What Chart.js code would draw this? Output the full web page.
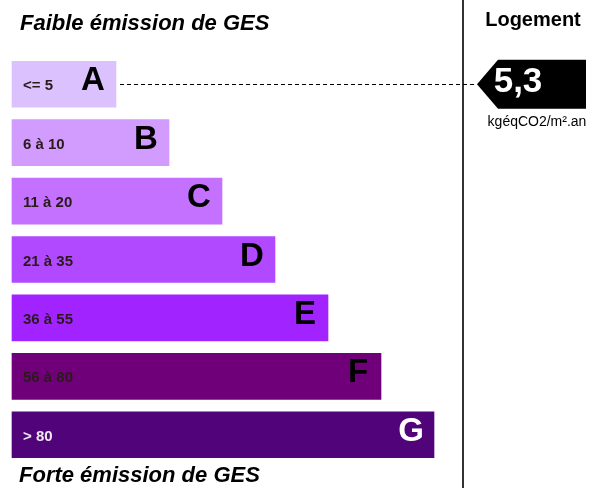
<!DOCTYPE html>
<html><head><meta charset="utf-8">
<script src="https://cdn.jsdelivr.net/npm/chart.js@4/dist/chart.umd.min.js"></script>
<style>html,body{margin:0;padding:0;background:#fff}#w{width:610px;height:488px;position:relative}</style>
</head><body><div id="w"><canvas id="c" width="610" height="488"></canvas></div>
<script>
const classes = ['A','B','C','D','E','F','G'];
const rangeLabels = ['<= 5','6 à 10','11 à 20','21 à 35','36 à 55','56 à 80','> 80'];
const barLengths = [2,3,4,5,6,7,8];
const barColors = ['#dbc1fd','#d29cff','#c471ff','#b049ff','#a123ff','#70007a','#51047a'];
const textColors = ['#2a1a1a','#2a1a1a','#2a1a1a','#2a1a1a','#2a1a1a','#2a1a1a','#f0e8f0'];
const letterColors = ['#000','#000','#000','#000','#000','#000','#fff'];
const topTitle = 'Faible émission de GES';
const bottomTitle = 'Forte émission de GES';
const panelTitle = 'Logement';
const logementClass = 'A';
const logementLabel = '5,3';
const unitLabel = 'kgéqCO2/m².an';

const F = '"Liberation Sans", Arial, sans-serif';

const overlay = {
  id:'overlay',
  afterDatasetsDraw(chart){
    const ctx = chart.ctx;
    const meta = chart.getDatasetMeta(0);
    ctx.save();
    // titles
    ctx.fillStyle = '#000';
    ctx.textBaseline = 'alphabetic';
    ctx.textAlign = 'left';
    ctx.font = 'italic bold 22px ' + F;
    ctx.fillText(topTitle, 20, 30);
    ctx.fillText(bottomTitle, 19, 482);
    // labels inside bars
    meta.data.forEach((bar, i) => {
      const yc = bar.y;
      ctx.font = 'bold 15px ' + F;
      ctx.fillStyle = textColors[i];
      ctx.textAlign = 'left';
      ctx.textBaseline = 'middle';
      ctx.fillText(rangeLabels[i], 23, yc + 2);
      ctx.font = 'bold 33px ' + F;
      ctx.fillStyle = letterColors[i];
      ctx.textAlign = 'center';
      ctx.fillText(classes[i], bar.x - 24, yc - 3);
    });
    // vertical separator
    ctx.strokeStyle = '#333';
    ctx.lineWidth = 2;
    ctx.beginPath(); ctx.moveTo(463, 0); ctx.lineTo(463, 488); ctx.stroke();
    // panel title
    ctx.fillStyle = '#000';
    ctx.font = 'bold 20px ' + F;
    ctx.textAlign = 'center';
    ctx.textBaseline = 'alphabetic';
    ctx.fillText(panelTitle, 533, 26);
    // arrow for logement
    const idx = classes.indexOf(logementClass);
    const bar = meta.data[idx];
    const yc = bar.y, h = 49;
    const tipX = 477, bodyX = 498, rightX = 586;
    ctx.fillStyle = '#000';
    ctx.beginPath();
    ctx.moveTo(tipX, yc);
    ctx.lineTo(bodyX, yc - h/2);
    ctx.lineTo(rightX, yc - h/2);
    ctx.lineTo(rightX, yc + h/2);
    ctx.lineTo(bodyX, yc + h/2);
    ctx.closePath(); ctx.fill();
    ctx.fillStyle = '#fff';
    ctx.font = 'bold 35px ' + F;
    ctx.textAlign = 'center';
    ctx.textBaseline = 'alphabetic';
    ctx.fillText(logementLabel, 518, yc + 8);
    ctx.fillStyle = '#000';
    ctx.font = '14px ' + F;
    ctx.fillText(unitLabel, 537, yc + 42);
    // dashed line
    ctx.strokeStyle = '#000';
    ctx.lineWidth = 1;
    ctx.setLineDash([4,3]);
    ctx.beginPath(); ctx.moveTo(bar.x + 3, Math.round(yc) + 0.5); ctx.lineTo(tipX, Math.round(yc) + 0.5); ctx.stroke();
    ctx.restore();
  }
};

new Chart(document.getElementById('c'), {
  type:'bar',
  data:{ labels: classes, datasets:[{ data: barLengths, backgroundColor: barColors, borderColor:'rgba(255,255,255,0.5)', borderWidth:1, borderSkipped:false, barThickness:48 }]},
  options:{
    indexAxis:'y', responsive:false, animation:false,
    layout:{ padding:{ left:11, right:16, top:55, bottom:24 } },
    scales:{
      x:{ display:false, min:0, max:11 },
      y:{ display:false }
    },
    plugins:{ legend:{display:false}, tooltip:{enabled:false} }
  },
  plugins:[overlay]
});
</script></body></html>
